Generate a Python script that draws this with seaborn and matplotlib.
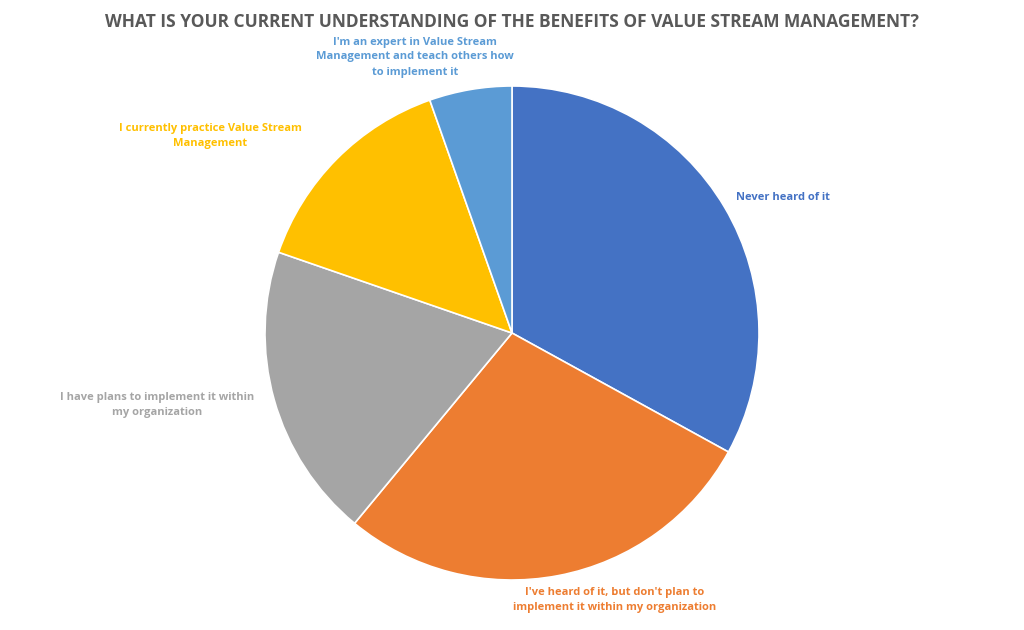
import matplotlib
matplotlib.use("Agg")
import matplotlib.pyplot as plt
import seaborn as sns

sns.set_theme(style="white")
plt.rcParams['font.family'] = ['Open Sans', 'DejaVu Sans']

categories = ["Never heard of it",
              "I've heard of it, but don't plan to\nimplement it within my organization",
              "I have plans to implement it within\nmy organization",
              "I currently practice Value Stream\nManagement",
              "I'm an expert in Value Stream\nManagement and teach others how\nto implement it"]
values = [33.0, 28.0, 19.3, 14.3, 5.4]
colors = ["#4472C4", "#ED7D31", "#A5A5A5", "#FFC000", "#5B9BD5"]
label_px = [(783, 197), (615, 600), (157, 405), (210, 136), (415, 57)]

W, H = 1024, 630
fig = plt.figure(figsize=(W/100, H/100), dpi=100)
cx, cy, r = 512, 333, 247
ax = fig.add_axes([(cx-r)/W, (H-cy-r)/H, 2*r/W, 2*r/H])
ax.pie(values, colors=colors, startangle=90, counterclock=False, radius=1,
       wedgeprops=dict(edgecolor="white", linewidth=1.2))
ax.set_xlim(-1, 1); ax.set_ylim(-1, 1); ax.set_aspect('equal'); ax.axis('off')

for lab, (x, y), c in zip(categories, label_px, colors):
    fig.text(x/W, 1-y/H, lab, color=c, fontsize=8, fontweight='bold',
             ha='center', va='center', linespacing=1.5)

fig.text(0.5, 1-22/H, "WHAT IS YOUR CURRENT UNDERSTANDING OF THE BENEFITS OF VALUE STREAM MANAGEMENT?",
         ha='center', va='center', fontsize=12.5, fontweight='bold', color='#595959')
fig.savefig("out.png", dpi=100, facecolor='white')
